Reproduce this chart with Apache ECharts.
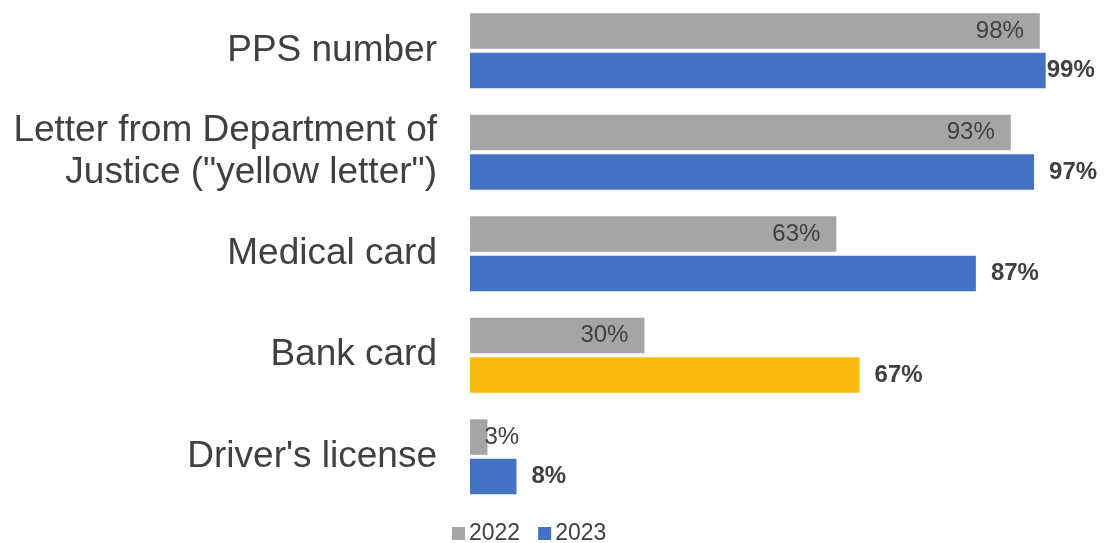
<!DOCTYPE html>
<html>
<head>
<meta charset="utf-8">
<script src="https://cdn.jsdelivr.net/npm/echarts@6/dist/echarts.min.js"></script>
<style>
  html, body { margin: 0; padding: 0; background: #ffffff; }
  #chart { width: 1107px; height: 543px; }
</style>
</head>
<body>
<div id="chart"></div>
<script>
// Documents held, share of respondents (%)
const categories = [
  'PPS number',
  'Letter from Department of\nJustice ("yellow letter")',
  'Medical card',
  'Bank card',
  "Driver's license"
];
const values2022 = [98, 93, 63, 30, 3];
const values2023 = [99, 97, 87, 67, 8];
const seriesNames = ['2022', '2023'];

const GREY = '#A5A5A5';
const BLUE = '#4472C4';
const GOLD = '#FBBC12';
const TEXT = '#404040';
const FONT = '"Liberation Sans", Arial, sans-serif';

// 2022 bars: labels sit inside the bar end; very short bars push the label outside
const data2022 = values2022.map(v => {
  const item = { value: v };
  if (v < 10) {
    item.label = { position: 'right', distance: -3 };
  }
  return item;
});

// 2023 bars: Bank card is highlighted; the longest bar keeps its label tight to the end
const data2023 = values2023.map((v, i) => {
  const item = { value: v };
  if (categories[i] === 'Bank card') {
    item.itemStyle = { color: GOLD };
  }
  if (v >= 99) {
    item.label = { distance: 1 };
  }
  return item;
});

const chart = echarts.init(document.getElementById('chart'), null, { renderer: 'canvas' });

chart.setOption({
  animation: false,
  textStyle: { fontFamily: FONT },
  grid: { left: 470, right: 55.5, top: 0, bottom: 35.5, containLabel: false },
  legend: {
    data: seriesNames,
    left: 447,
    top: 517,
    itemWidth: 13,
    itemHeight: 13,
    itemGap: 18,
    icon: 'rect',
    textStyle: { color: TEXT, fontSize: 23, fontFamily: FONT, padding: [0, 0, 0, -1] }
  },
  xAxis: {
    type: 'value',
    min: 0,
    max: 100,
    show: false
  },
  yAxis: {
    type: 'category',
    data: categories,
    inverse: true,
    axisLine: { show: false },
    axisTick: { show: false },
    splitLine: { show: false },
    axisLabel: {
      margin: 33,
      color: TEXT,
      fontSize: 37,
      lineHeight: 42,
      align: 'right',
      fontFamily: FONT
    }
  },
  series: [
    {
      name: seriesNames[0],
      type: 'bar',
      data: data2022,
      barWidth: 35.5,
      barGap: '11%',
      itemStyle: { color: GREY },
      label: {
        show: true,
        position: 'insideRight',
        distance: 16,
        formatter: '{c}%',
        color: TEXT,
        fontSize: 24,
        fontFamily: FONT
      }
    },
    {
      name: seriesNames[1],
      type: 'bar',
      data: data2023,
      barWidth: 35.5,
      barGap: '11%',
      itemStyle: { color: BLUE },
      label: {
        show: true,
        position: 'right',
        distance: 15,
        formatter: '{c}%',
        color: TEXT,
        fontSize: 24,
        fontWeight: 'bold',
        fontFamily: FONT
      }
    }
  ]
});
</script>
</body>
</html>
